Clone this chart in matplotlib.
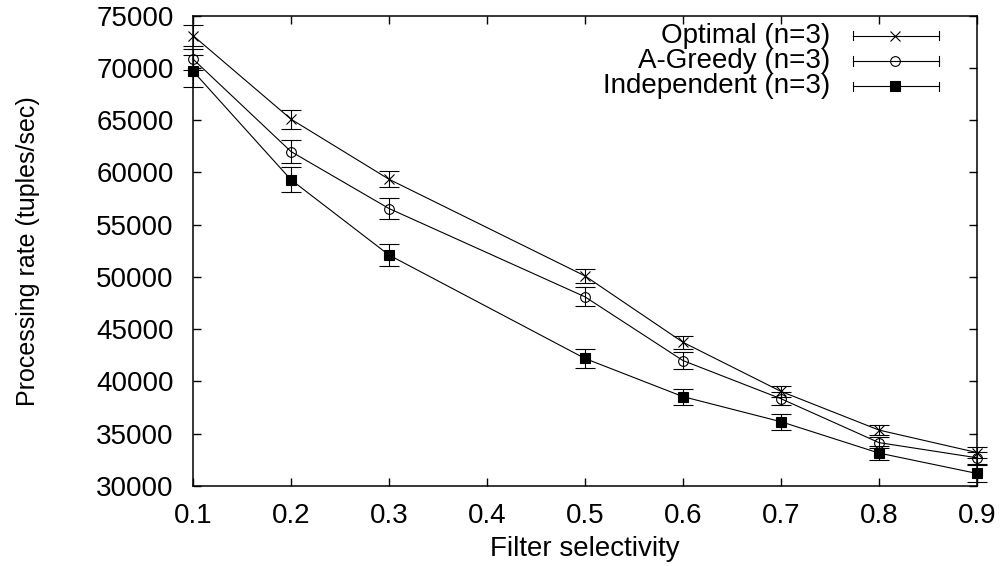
import matplotlib
matplotlib.use("Agg")
import matplotlib.pyplot as plt
import numpy as np

# Filter selectivity values (x axis)
selectivity = [0.1, 0.2, 0.3, 0.5, 0.6, 0.7, 0.8, 0.9]

# Processing rates (tuples/sec)
optimal = [73100, 65100, 59350, 50100, 43750, 39050, 35350, 33200]
optimal_err = [1000, 900, 750, 700, 620, 500, 480, 500]
agreedy = [70850, 62000, 56550, 48100, 42000, 38350, 34150, 32700]
agreedy_err = [1000, 1100, 1000, 900, 780, 600, 550, 600]
independent = [69700, 59300, 52100, 42200, 38550, 36150, 33150, 31200]
independent_err = [1500, 1200, 1050, 900, 770, 770, 670, 800]

series_labels = ["Optimal (n=3)", "A-Greedy (n=3)", "Independent (n=3)"]
x_ticks = [0.1, 0.2, 0.3, 0.4, 0.5, 0.6, 0.7, 0.8, 0.9]
y_ticks = list(range(30000, 75001, 5000))


def main():
    plt.rcParams['font.family'] = ['Liberation Sans', 'DejaVu Sans']
    W, H = 1005, 566
    fig = plt.figure(figsize=(W / 100, H / 100), dpi=100)
    # axes box in pixels: left 193, right 977, top 15.7, bottom 486
    ax = fig.add_axes([193 / W, 1 - 486 / H, 784 / W, 470.3 / H])

    lw = 0.8
    styles = [
        dict(marker='x', ms=7, mfc='none', mec='black', mew=0.8),
        dict(marker='o', ms=7, mfc='none', mec='black', mew=0.8),
        dict(marker='s', ms=7, mfc='black', mec='black', mew=0.8),
    ]
    data = [(optimal, optimal_err), (agreedy, agreedy_err), (independent, independent_err)]
    for (vals, errs), st in zip(data, styles):
        ax.errorbar(selectivity, vals, yerr=errs, color='black', lw=lw,
                    elinewidth=lw, capsize=7, capthick=lw, clip_on=False, **st)

    ax.set_xlim(0.1, 0.9)
    ax.set_ylim(30000, 75000)
    ax.set_xticks(x_ticks)
    ax.set_xticklabels([f"{t:.1f}" for t in x_ticks])
    ax.set_yticks(y_ticks)
    ax.set_yticklabels([str(t) for t in y_ticks])
    ax.tick_params(axis='both', direction='in', top=True, right=True,
                   width=1.0, labelsize=20)
    ax.tick_params(axis='y', length=6, pad=14)
    ax.tick_params(axis='x', length=5.5, pad=12)
    for sp in ax.spines.values():
        sp.set_linewidth(1.1)

    fig.text(585 / W, 1 - 549 / H, "Filter selectivity", ha='center',
             va='center', fontsize=20)
    fig.text(28 / W, 1 - 251 / H, "Processing rate (tuples/sec)", ha='center',
             va='center', rotation=90, fontsize=18)

    # gnuplot-style key: label, then horizontal error bar sample with marker
    rows_y = [35.7, 61, 86]
    for label, st, py in zip(series_labels, styles, rows_y):
        yk = (486 - py) / 470.3
        ax.text((830 - 193) / 784, yk, label, transform=ax.transAxes,
                ha='right', va='center', fontsize=20)
        x0, x1 = (853 - 193) / 784, (939 - 193) / 784
        ax.plot([x0, x1], [yk, yk], color='black', lw=lw, transform=ax.transAxes,
                clip_on=False)
        for xe in (x0, x1):
            ax.plot([xe, xe], [yk - 4.5 / 470.3, yk + 4.5 / 470.3], color='black',
                    lw=lw, transform=ax.transAxes, clip_on=False)
        ax.plot([(895 - 193) / 784], [yk], linestyle='none', transform=ax.transAxes,
                clip_on=False, **st)

    fig.savefig("out.png", dpi=100)
    plt.close(fig)


if __name__ == "__main__":
    main()
